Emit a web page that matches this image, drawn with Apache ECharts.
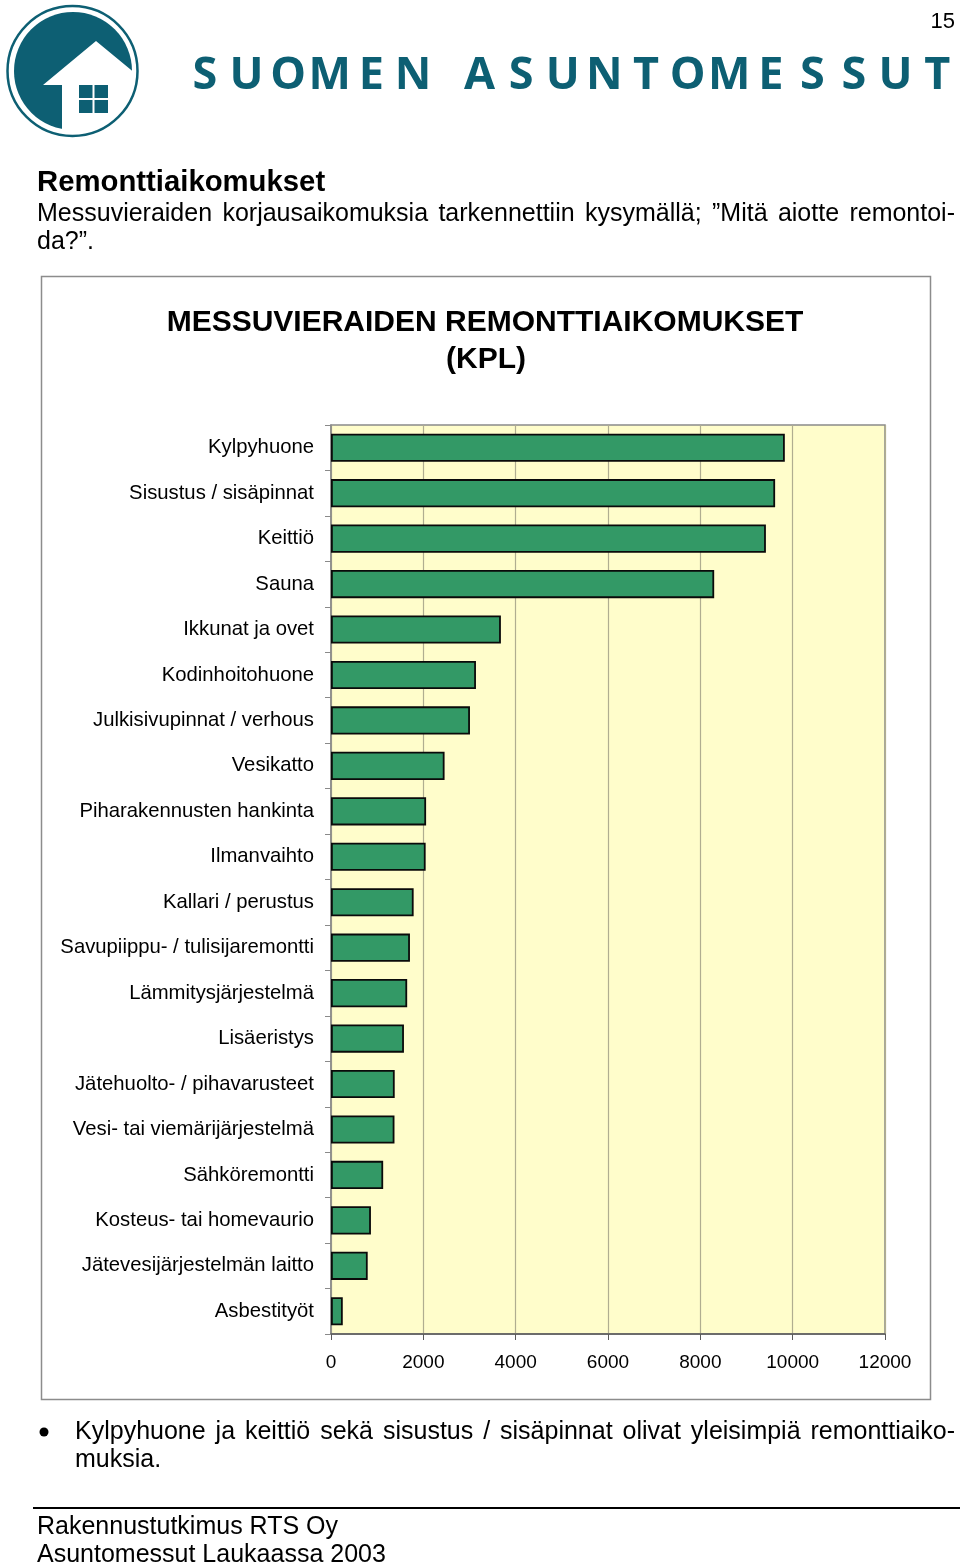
<!DOCTYPE html>
<html><head><meta charset="utf-8">
<script src="https://cdn.jsdelivr.net/npm/echarts@6/dist/echarts.min.js"></script>
<style>html,body{margin:0;padding:0;background:#fff}#c{width:960px;height:1566px}</style>
</head><body><div id="c"></div>
<script>
// ---- data ----
var categories = ["Kylpyhuone","Sisustus / sisäpinnat","Keittiö","Sauna","Ikkunat ja ovet","Kodinhoitohuone","Julkisivupinnat / verhous","Vesikatto","Piharakennusten hankinta","Ilmanvaihto","Kallari / perustus","Savupiippu- / tulisijaremontti","Lämmitysjärjestelmä","Lisäeristys","Jätehuolto- / pihavarusteet","Vesi- tai viemärijärjestelmä","Sähköremontti","Kosteus- tai homevaurio","Jätevesijärjestelmän laitto","Asbestityöt"];
var values = [9830, 9620, 9420, 8300, 3680, 3140, 3010, 2460, 2060, 2050, 1790, 1710, 1650, 1580, 1380, 1375, 1130, 865, 795, 255];
var xTicks = [0, 2000, 4000, 6000, 8000, 10000, 12000];
var chartTitle = "MESSUVIERAIDEN REMONTTIAIKOMUKSET";
var chartSubtitle = "(KPL)";
var brand = "SUOMEN ASUNTOMESSUT";
var heading = "Remonttiaikomukset";
var para1 = "Messuvieraiden korjausaikomuksia tarkennettiin kysymällä; ”Mitä aiotte remontoi-";
var para2 = "da?”.";
var bullet1 = "Kylpyhuone ja keittiö sekä sisustus / sisäpinnat olivat yleisimpiä remonttiaiko-";
var bullet2 = "muksia.";
var footer1 = "Rakennustutkimus RTS Oy";
var footer2 = "Asuntomessut Laukaassa 2003";
var pageNo = "15";

var FONT = "'Liberation Sans', Arial, sans-serif";
var TEAL = "#0d5f73";

var cv = document.createElement('canvas').getContext('2d');
function justify(text, x0, x1, y, size, weight) {
  var words = text.split(' ');
  cv.font = (weight || 'normal') + ' ' + size + 'px ' + FONT;
  var ws = words.map(function (w) { return cv.measureText(w).width; });
  var tot = ws.reduce(function (a, b) { return a + b; }, 0);
  var gap = (x1 - x0 - tot) / (words.length - 1);
  var out = [], x = x0;
  words.forEach(function (w, i) {
    out.push({ type: 'text', x: x, y: y, style: { text: w, font: (weight || 'normal') + ' ' + size + 'px ' + FONT, fill: '#000', textVerticalAlign: 'middle', verticalAlign: 'middle' } });
    x += ws[i] + gap;
  });
  return out;
}
function txt(t, x, y, size, opts) {
  opts = opts || {};
  return { type: 'text', x: x, y: y, style: { text: t, font: (opts.weight || 'normal') + ' ' + size + 'px ' + (opts.family || FONT), fill: opts.fill || '#000', textAlign: opts.align || 'left', align: opts.align || 'left', textVerticalAlign: 'middle', verticalAlign: 'middle' } };
}

var g = [];
// chart frame
g.push({ type: 'rect', shape: { x: 41.5, y: 276.5, width: 889, height: 1123 }, style: { fill: 'none', stroke: '#8c8c8c', lineWidth: 1.5 }, z: -10 });
// logo
g.push({ type: 'circle', shape: { cx: 73, cy: 71, r: 59 }, style: { fill: TEAL } });
g.push({ type: 'polygon', shape: { points: [[96, 41], [136, 74], [140, 140], [62, 140], [62, 85], [43, 85]] }, style: { fill: '#fff' } });
g.push({ type: 'circle', shape: { cx: 72.5, cy: 71, r: 65 }, style: { fill: 'none', stroke: TEAL, lineWidth: 2.5 } });
g.push({ type: 'rect', shape: { x: 79, y: 85, width: 13.5, height: 13 }, style: { fill: TEAL } });
g.push({ type: 'rect', shape: { x: 94.5, y: 85, width: 13.5, height: 13 }, style: { fill: TEAL } });
g.push({ type: 'rect', shape: { x: 79, y: 100, width: 13.5, height: 13 }, style: { fill: TEAL } });
g.push({ type: 'rect', shape: { x: 94.5, y: 100, width: 13.5, height: 13 }, style: { fill: TEAL } });
// brand letters
var bx = 205, letters = brand.split('');
letters.forEach(function (ch) {
  if (ch === ' ') { bx += 25; return; }
  g.push(txt(ch, bx, 76, 45, { weight: 'bold', family: "'Open Sans', sans-serif", fill: TEAL, align: 'center' }));
  bx += 41.6;
});
g.push(txt(pageNo, 955, 22, 22, { align: 'right' }));
g.push(txt(heading, 37, 183, 29.3, { weight: 'bold' }));
g = g.concat(justify(para1, 37, 955, 214, 25));
g.push(txt(para2, 37, 242, 25));
g.push(txt(chartTitle, 485, 323, 30, { weight: 'bold', align: 'center' }));
g.push(txt(chartSubtitle, 486, 360, 30, { weight: 'bold', align: 'center' }));
g.push({ type: 'circle', shape: { cx: 44, cy: 1432, r: 4.5 }, style: { fill: '#000' } });
g = g.concat(justify(bullet1, 75, 955, 1432, 25));
g.push(txt(bullet2, 75, 1460, 25));
g.push({ type: 'line', shape: { x1: 33, y1: 1508, x2: 960, y2: 1508 }, style: { stroke: '#000', lineWidth: 2 } });
g.push(txt(footer1, 37, 1527, 25));
g.push(txt(footer2, 37, 1555, 25));

var chart = echarts.init(document.getElementById('c'), null, { renderer: 'canvas' });
chart.setOption({
  animation: false,
  backgroundColor: '#fff',
  grid: { left: 331, right: 75, top: 425, bottom: 232, show: true, backgroundColor: '#FFFDCB', borderColor: '#8a8a8a', borderWidth: 1.5, containLabel: false },
  xAxis: {
    type: 'value', min: xTicks[0], max: xTicks[xTicks.length - 1], interval: xTicks[1] - xTicks[0],
    axisLine: { show: true, lineStyle: { color: '#5a5a5a', width: 1.5 } },
    axisTick: { show: true, length: 6, lineStyle: { color: '#5a5a5a' } },
    axisLabel: { color: '#000', fontSize: 19, fontFamily: FONT, margin: 19, formatter: function (v) { return String(v); } },
    splitLine: { show: true, lineStyle: { color: '#b0ad90', width: 1.2 } }
  },
  yAxis: {
    type: 'category', data: categories, inverse: true,
    axisLine: { show: true, lineStyle: { color: '#8a8a8a', width: 1.5 } },
    axisTick: { show: true, length: 6, alignWithLabel: false, lineStyle: { color: '#8a8a8a' } },
    axisLabel: { color: '#000', fontSize: 20.3, fontFamily: FONT, margin: 17 }
  },
  series: [{
    type: 'bar', data: values, barWidth: '62%',
    itemStyle: { color: '#339966', borderColor: '#0a0a0a', borderWidth: 1.8 }
  }],
  graphic: { elements: g }
});
</script></body></html>
